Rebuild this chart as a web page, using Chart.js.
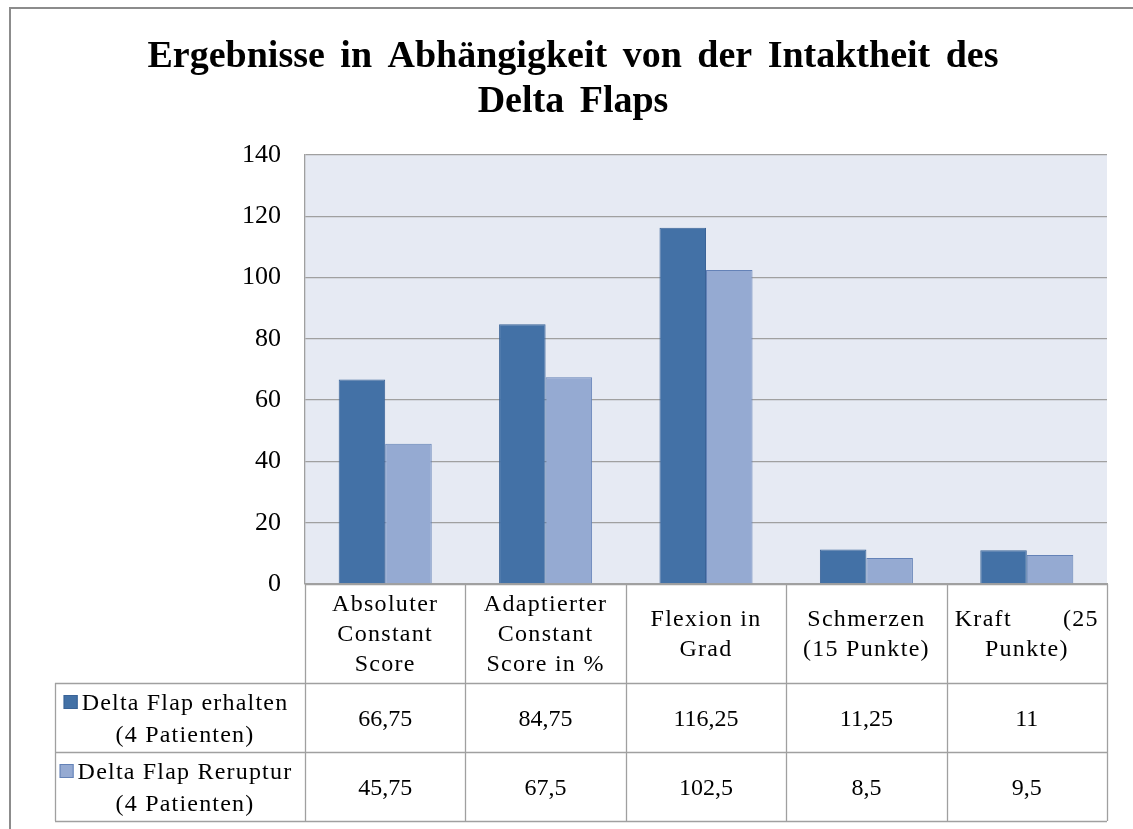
<!DOCTYPE html>
<html><head><meta charset="utf-8">
<script src="https://cdn.jsdelivr.net/npm/chart.js@4"></script>
<style>html,body{margin:0;padding:0;background:#fff;}canvas{display:block;}</style>
</head><body>
<canvas id="c" width="1133" height="829" style="width:1133px;height:829px"></canvas>
<script>
const titleLines = ['Ergebnisse in Abhängigkeit von der Intaktheit des', 'Delta Flaps'];
const categories = [['Absoluter','Constant','Score'],['Adaptierter','Constant','Score in %'],['Flexion in','Grad'],['Schmerzen','(15 Punkte)'],['Kraft       (25','Punkte)']];
const seriesErhaltenName = ['Delta Flap erhalten', '(4 Patienten)'];
const seriesRerupturName = ['Delta Flap Reruptur', '(4 Patienten)'];
const erhalten = [66.75, 84.75, 116.25, 11.25, 11];
const reruptur = [45.75, 67.5, 102.5, 8.5, 9.5];
const yTicks = [0, 20, 40, 60, 80, 100, 120, 140];

const FONT = "'Liberation Serif', 'Times New Roman', serif";
const DARK = '#4371A6', DARK_B = '#3A6397';
const LIGHT = '#95AAD2', LIGHT_B = '#6482B7';
const GRID = '#A0A0A0';
const fmt = v => String(v).replace('.', ',');

const tablePlugin = {
  id: 'dataTable',
  afterLayout(chart) {
    const x = chart.scales.x;
    if (!x._lsPatched) {
      const orig = x.drawLabels;
      x.drawLabels = function(area) {
        const c = this.ctx;
        c.save();
        c.letterSpacing = '1.3px';
        orig.call(this, area);
        c.restore();
      };
      x._lsPatched = true;
    }
  },
  beforeDraw(chart) {
    const {ctx, chartArea: a} = chart;
    ctx.save();
    ctx.fillStyle = '#fff';
    ctx.fillRect(0, 0, chart.width, chart.height);
    ctx.fillStyle = '#E6EAF3';
    ctx.fillRect(a.left, a.top, a.right - a.left, a.bottom - a.top);
    ctx.strokeStyle = '#8C8C8C';
    ctx.lineWidth = 2;
    ctx.strokeRect(10, 8, chart.width + 20, chart.height + 20);
    // title
    ctx.fillStyle = '#000';
    ctx.font = 'bold 38px ' + FONT;
    ctx.textAlign = 'center';
    ctx.textBaseline = 'alphabetic';
    ctx.wordSpacing = '6px';
    ctx.fillText(titleLines[0], 573, 67);
    ctx.fillText(titleLines[1], 573, 112);
    ctx.restore();
  },
  afterDraw(chart) {
    const {ctx, chartArea: a, scales: {x}} = chart;
    const n = categories.length;
    const bounds = [a.left];
    for (let i = 0; i < n - 1; i++) bounds.push((x.getPixelForValue(i) + x.getPixelForValue(i + 1)) / 2);
    bounds.push(a.right);
    const y0 = a.bottom, y1 = y0 + 99, y2 = y1 + 69, y3 = y2 + 69;
    const legLeft = 55;
    ctx.save();
    ctx.strokeStyle = GRID;
    ctx.lineWidth = 1.3;
    ctx.beginPath();
    bounds.forEach(b => { ctx.moveTo(Math.round(b) + 0.5, y0); ctx.lineTo(Math.round(b) + 0.5, y3); });
    ctx.moveTo(legLeft + 0.5, y1); ctx.lineTo(legLeft + 0.5, y3);
    [y1, y2, y3].forEach(yy => { ctx.moveTo(legLeft, yy + 0.5); ctx.lineTo(a.right, yy + 0.5); });
    ctx.moveTo(a.left, y0 + 0.5); ctx.lineTo(a.right, y0 + 0.5);
    ctx.stroke();

    ctx.fillStyle = '#000';
    ctx.font = '24px ' + FONT;
    ctx.textAlign = 'center';
    ctx.textBaseline = 'middle';
    const rows = [[erhalten, y1, y2], [reruptur, y2, y3]];
    rows.forEach(([vals, ta, tb]) => {
      vals.forEach((v, i) => {
        const cx = (bounds[i] + bounds[i + 1]) / 2;
        ctx.fillText(fmt(v), cx, (ta + tb) / 2 + 2);
      });
    });
    ctx.letterSpacing = '1.2px';
    ctx.textBaseline = 'alphabetic';
    const legs = [[seriesErhaltenName, DARK, DARK_B, y1], [seriesRerupturName, LIGHT, LIGHT_B, y2]];
    legs.forEach(([lines, fill, border, ta]) => {
      const w1 = ctx.measureText(lines[0]).width;
      const sw = 14, gap = 4;
      const total = sw + gap + w1;
      const cellC = (legLeft + a.left) / 2 - 4;
      const sx = cellC - total / 2;
      const tc = sx + sw + gap + w1 / 2;
      ctx.fillStyle = fill;
      ctx.fillRect(sx, ta + 12, sw, sw);
      ctx.strokeStyle = border; ctx.lineWidth = 1;
      ctx.strokeRect(sx + 0.5, ta + 12.5, sw - 1, sw - 1);
      ctx.fillStyle = '#000';
      ctx.fillText(lines[0], tc, ta + 27);
      ctx.fillText(lines[1], tc, ta + 59);
    });
    ctx.restore();
  }
};

new Chart(document.getElementById('c'), {
  type: 'bar',
  data: {
    labels: categories,
    datasets: [
      {label: seriesErhaltenName.join(' '), data: erhalten, backgroundColor: DARK, borderColor: DARK_B, borderWidth: 1},
      {label: seriesRerupturName.join(' '), data: reruptur, backgroundColor: LIGHT, borderColor: LIGHT_B, borderWidth: 1}
    ]
  },
  options: {
    responsive: false,
    devicePixelRatio: 1,
    animation: false,
    layout: {padding: {left: 14, right: 26, top: 155, bottom: 146}},
    categoryPercentage: 0.58,
    barPercentage: 1.0,
    plugins: {
      legend: {display: false},
      tooltip: {enabled: false},
      title: {display: false}
    },
    scales: {
      y: {
        min: 0, max: 140,
        afterBuildTicks: s => { s.ticks = yTicks.map(v => ({value: v})); },
        afterFit: s => { s.width = 291; },
        ticks: {color: '#000', font: {family: FONT, size: 26}, padding: 24},
        grid: {color: GRID, lineWidth: 1.3, drawTicks: false},
        border: {display: true, color: GRID, width: 1.3}
      },
      x: {
        afterFit: s => { s.height = 99; },
        ticks: {color: '#000', font: {family: FONT, size: 24, lineHeight: 1.25}, padding: 21, maxRotation: 0, autoSkip: false, crossAlign: 'center'},
        grid: {display: false, drawTicks: false},
        border: {display: true, color: GRID, width: 1.3}
      }
    }
  },
  plugins: [tablePlugin]
});
</script>
</body></html>
